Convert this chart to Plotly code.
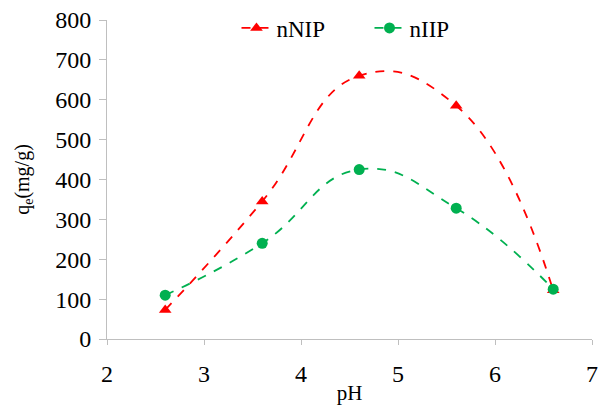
import plotly.graph_objects as go

ph = [2.6, 3.6, 4.6, 5.6, 6.6]
nnip = [73, 345, 660, 585, 122]
niip = [110, 240, 425, 328, 125]
x_ticks = [2, 3, 4, 5, 6, 7]
y_ticks = [0, 100, 200, 300, 400, 500, 600, 700, 800]

fig = go.Figure()
fig.add_trace(go.Scatter(
    x=ph, y=nnip, name="nNIP", mode="lines+markers",
    line=dict(color="#FF0000", width=1.8, dash="dash", shape="spline", smoothing=1.3),
    marker=dict(symbol="triangle-up", size=11, color="#FF0000"),
))
fig.add_trace(go.Scatter(
    x=ph, y=niip, name="nIIP", mode="lines+markers",
    line=dict(color="#00B050", width=1.8, dash="dash", shape="spline", smoothing=1.3),
    marker=dict(symbol="circle", size=11, color="#00B050"),
))

font_family = "Liberation Serif, Times New Roman, serif"
fig.update_layout(
    width=600, height=405,
    margin=dict(l=107, r=8, t=20, b=66, autoexpand=False),
    paper_bgcolor="white", plot_bgcolor="white",
    font=dict(family=font_family, size=24, color="black"),
    legend=dict(orientation="h", x=0.267, y=0.975, xanchor="left", yanchor="middle",
                font=dict(size=23), bgcolor="rgba(0,0,0,0)",
                entrywidth=88, entrywidthmode="pixels"),
    xaxis=dict(range=[2, 7], tickvals=x_ticks, showgrid=False, zeroline=False,
               showline=True, linecolor="#BFBFBF", linewidth=1, automargin=False,
               ticks="outside", ticklen=5, tickcolor="#BFBFBF", ticklabelstandoff=8,
               title=dict(text="pH", standoff=4, font=dict(size=21))),
    yaxis=dict(range=[0, 800], tickvals=y_ticks, showgrid=False, zeroline=False,
               showline=True, linecolor="#BFBFBF", linewidth=1, automargin=False,
               ticks="outside", ticklen=7, tickcolor="#BFBFBF", ticklabelstandoff=3,
               title=dict(text="q<sub>e</sub>(mg/g)", standoff=20, font=dict(size=20))),
)

fig.write_html("out.html", config={"displayModeBar": False},
               post_script="document.body.style.margin='0';")
